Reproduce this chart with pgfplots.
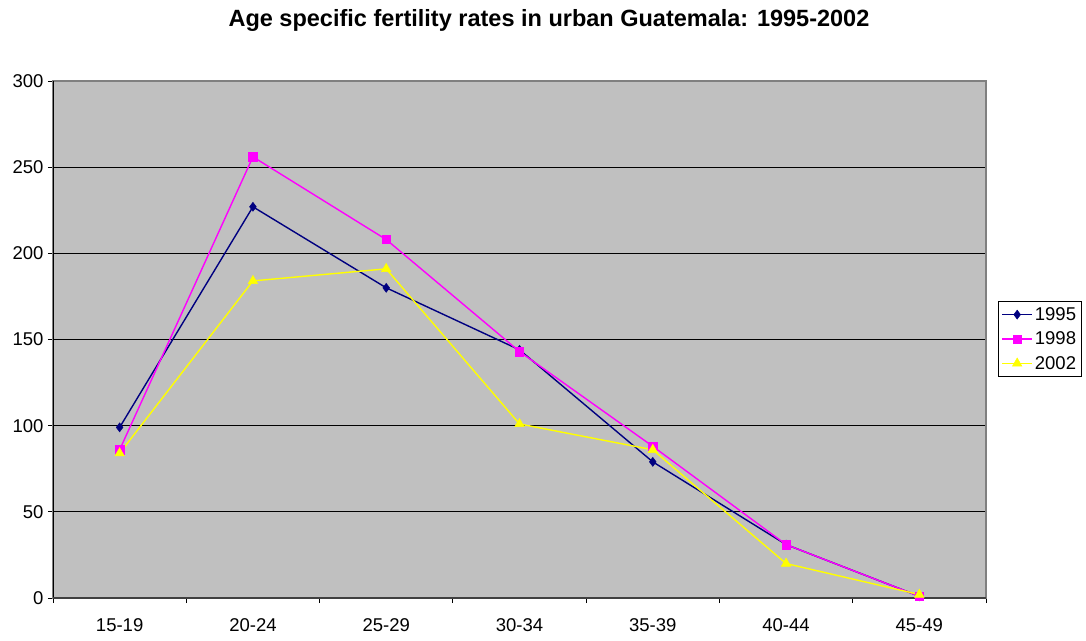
\documentclass[border=0pt]{standalone}
\usepackage{pgfplots}
\pgfplotsset{compat=1.18}
\usepackage{fontspec}
\setmainfont{Liberation Sans}

\definecolor{plotbg}{RGB}{192,192,192}
\definecolor{frame}{RGB}{128,128,128}
\definecolor{c95}{RGB}{0,0,128}
\definecolor{c98}{RGB}{255,0,255}
\definecolor{c02}{RGB}{255,255,0}

\begin{document}
\begin{tikzpicture}[x=1pt,y=1pt]
\useasboundingbox (0,0) rectangle (1086,640);
\node[font=\fontsize{23.5}{28}\selectfont\bfseries] at (549,620)
  {Age specific fertility rates in urban Guatemala: 1995-2002};
\begin{axis}[
  at={(53pt,42pt)}, anchor=south west,
  scale only axis, width=933pt, height=517pt,
  xmin=-0.5, xmax=6.5, ymin=0, ymax=300,
  ytick={0,50,...,300},
  xtick={-0.5,0.5,...,6.5}, xticklabels={},
  extra x ticks={0,1,2,3,4,5,6},
  extra x tick labels={15-19,20-24,25-29,30-34,35-39,40-44,45-49},
  extra x tick style={major tick length=0pt, grid=none,
    xticklabel style={yshift=-17pt}},
  tick align=outside, major tick length=5pt,
  tick style={black, line width=0.9pt},
  xtick pos=bottom, ytick pos=left,
  ymajorgrids, grid style={black, line width=0.9pt},
  axis background/.style={fill=plotbg},
  axis line style={frame, line width=1.2pt},
  ticklabel style={font=\fontsize{18.5}{22}\selectfont},
  /pgf/number format/assume math mode=true,
  yticklabel style={xshift=-1pt},
  legend style={at={(1.0129,0.5745)}, anchor=north west,
    font=\fontsize{18.5}{22}\selectfont, draw=black, line width=0.9pt,
    inner xsep=3pt, inner ysep=4pt, row sep=6pt,
    legend cell align=left},
  legend image code/.code={%
    \draw[mark repeat=2, mark phase=2, #1]
      plot coordinates {(0pt,0pt) (15pt,0pt) (30pt,0pt)};},
]
% plot frame: black left edge, dark bottom edge, grey top and right edges
\draw[frame, line width=1.2pt] (rel axis cs:0,1) -- (rel axis cs:1,1) -- (rel axis cs:1,0);
\draw[black, line width=1.2pt] (rel axis cs:0,1) -- (rel axis cs:0,0);
\draw[black!75, line width=1.6pt] (rel axis cs:0,0) -- (rel axis cs:1,0);

\addplot[c95, line width=1.4pt, mark=diamond*, mark size=4.5pt,
  mark options={fill=c95, draw=c95, line width=0.5pt}]
  coordinates {(0,99) (1,227) (2,180) (3,144) (4,79) (5,31) (6,1)};
\addlegendentry{1995}
\addplot[c98, line width=1.4pt, mark=square*, mark size=4.2pt,
  mark options={fill=c98, draw=c98, line width=0.5pt}]
  coordinates {(0,86) (1,256) (2,208) (3,143) (4,88) (5,31) (6,1)};
\addlegendentry{1998}
\addplot[c02, line width=1.4pt, mark=triangle*, mark size=5.5pt,
  mark options={fill=c02, draw=c02, line width=0.5pt}]
  coordinates {(0,84) (1,184) (2,191) (3,101) (4,86) (5,20) (6,2)};
\addlegendentry{2002}
\end{axis}
\end{tikzpicture}
\end{document}
